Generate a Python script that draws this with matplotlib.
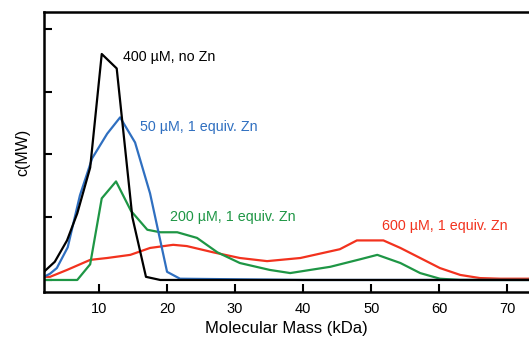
import numpy as np
import matplotlib.pyplot as plt

plt.rcParams['font.family'] = ['Liberation Sans', 'DejaVu Sans']

# 400 uM, no Zn
black_x = [1.9, 3.5, 5.3, 6.8, 8.7, 10.4, 12.6, 14.9, 16.9, 19.0, 30, 50, 73.2]
black_y = [0.13, 0.29, 0.63, 1.06, 1.79, 3.6, 3.37, 1.0, 0.05, 0.0, 0.0, 0.0, 0.0]

# 50 uM, 1 equiv. Zn
blue_x = [1.9, 2.8, 3.8, 5.4, 7.2, 9.0, 11.2, 13.1, 15.3, 17.5, 20.0, 21.9, 40, 73.2]
blue_y = [0.05, 0.1, 0.19, 0.52, 1.35, 1.94, 2.33, 2.59, 2.19, 1.38, 0.13, 0.02, 0.0, 0.0]

# 200 uM, 1 equiv. Zn
green_x = [1.9, 6.8, 8.7, 10.4, 12.5, 14.7, 17.1, 19.0, 21.5, 24.4, 27.4, 30.7,
           35.1, 38.1, 44.0, 48.4, 50.9, 54.3, 57.2, 60.1, 63.1, 73.2]
green_y = [0.0, 0.0, 0.25, 1.3, 1.57, 1.1, 0.8, 0.76, 0.76, 0.67, 0.44, 0.27,
           0.16, 0.11, 0.21, 0.33, 0.4, 0.27, 0.11, 0.02, 0.0, 0.0]

# 600 uM, 1 equiv. Zn
red_x = [1.9, 2.8, 5.3, 8.7, 11.2, 14.6, 17.5, 20.9, 22.9, 26.8, 30.7, 34.7,
         39.6, 45.4, 47.9, 51.8, 54.3, 57.2, 60.1, 63.1, 66.0, 69.0, 73.2]
red_y = [0.05, 0.05, 0.16, 0.32, 0.35, 0.4, 0.51, 0.56, 0.54, 0.44, 0.35, 0.3,
         0.35, 0.49, 0.63, 0.63, 0.51, 0.35, 0.19, 0.08, 0.03, 0.02, 0.02]

labels = ["400 \u00b5M, no Zn", "50 \u00b5M, 1 equiv. Zn",
          "200 \u00b5M, 1 equiv. Zn", "600 \u00b5M, 1 equiv. Zn"]
label_pos = [(13.5, 3.56), (16.0, 2.44), (20.4, 1.0), (51.6, 0.86)]
colors = ['black', '#2f6fc0', '#1e9645', '#f2321e']

fig = plt.figure(figsize=(5.29, 3.41), dpi=100)
ax = fig.add_axes([0.083, 0.144, 0.917, 0.821])

series = [(black_x, black_y), (blue_x, blue_y), (green_x, green_y), (red_x, red_y)]
for (xs, ys), c in zip(series[::-1], colors[::-1]):
    ax.plot(xs, ys, color=c, lw=1.6)

for lab, (tx, ty), c in zip(labels, label_pos, colors):
    ax.text(tx, ty, lab, color=c, fontsize=10.3, va='center', ha='left')

ax.set_xlim(1.9, 73.2)
ax.set_ylim(-0.19, 4.27)
ax.set_xticks([10, 20, 30, 40, 50, 60, 70])
ax.set_yticks([0, 1, 2, 3, 4])
ax.set_yticklabels([])
ax.tick_params(direction='in', length=6, width=1.5, labelsize=10.5)
ax.tick_params(axis='x', pad=7)
ax.spines['right'].set_visible(False)
for s in ['left', 'top', 'bottom']:
    ax.spines[s].set_linewidth(1.8)

ax.set_xlabel("Molecular Mass (kDa)", fontsize=12, labelpad=4)
ax.set_ylabel("c(MW)", fontsize=11.5, labelpad=6)

fig.savefig("out.png", dpi=100)
